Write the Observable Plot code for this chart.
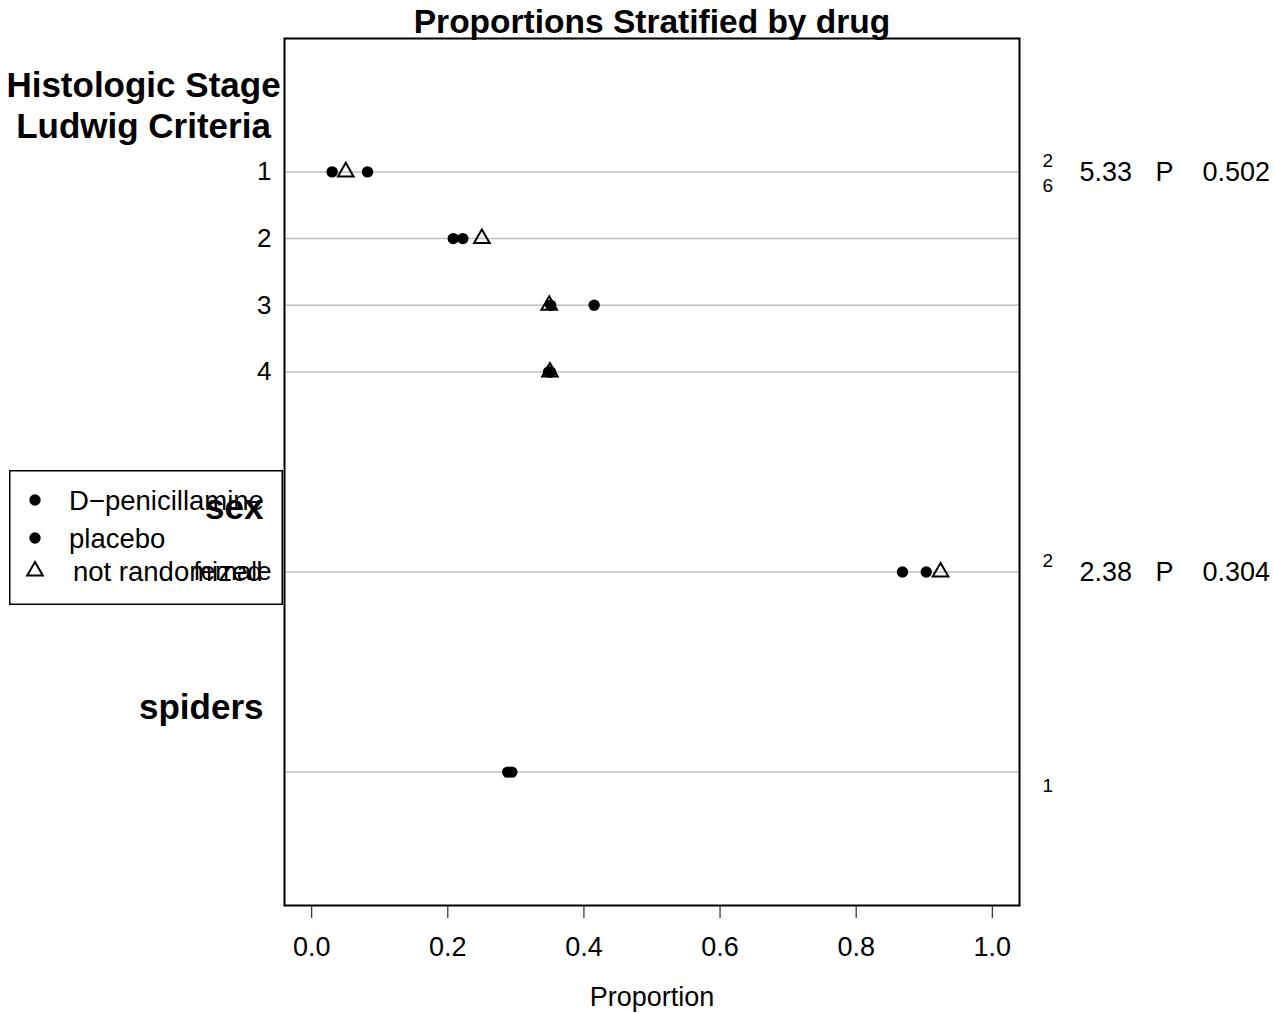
<!DOCTYPE html>
<html>
<head>
<meta charset="utf-8">
<script src="https://cdn.jsdelivr.net/npm/d3@7"></script>
<script src="https://cdn.jsdelivr.net/npm/@observablehq/plot@0.6"></script>
<style>
  html, body { margin: 0; padding: 0; background: white; }
  #wrap { position: relative; width: 1274px; height: 1013px; font-family: "Liberation Sans", Arial, sans-serif; }
  #legend { position: absolute; left: 9px; top: 470px; }
</style>
</head>
<body>
<div id="wrap"></div>
<script>
// ---- data ----
const title = "Proportions Stratified by drug";
const xLabel = "Proportion";
const groups = ["Histologic Stage\nLudwig Criteria", "sex", "spiders"];
const levels = ["1", "2", "3", "4", "female", ""];
const levelGroup = [0, 0, 0, 0, 1, 2];
const dPenicillamine = [0.082, 0.222, 0.351, 0.348, 0.868, 0.288];
const placebo        = [0.030, 0.208, 0.415, 0.351, 0.903, 0.294];
const notRandomized  = [0.050, 0.250, 0.349, 0.350, 0.924, null];
const chiSup   = ["2", "2", ""];
const chiSub   = ["6", "", "1"];
const chiValue = ["5.33", "2.38", ""];
const pLabel   = ["P", "P", ""];
const pValue   = ["0.502", "0.304", ""];
const xTicks = [0, 0.2, 0.4, 0.6, 0.8, 1.0];
const legendLabels = ["D\u2212penicillamine", "placebo", "not randomized"];

// ---- slot layout: blank, then per group: heading, levels, blank ----
let slot = -2;
const slotStart = slot;
slot++;
const headingPos = [], levelPos = [], annotPos = [];
groups.forEach((g, gi) => {
  headingPos[gi] = slot++;
  levels.forEach((l, li) => {
    if (levelGroup[li] === gi) {
      if (annotPos[gi] === undefined) annotPos[gi] = slot;
      levelPos[li] = slot++;
    }
  });
  slot++;
});
const slotEnd = slot;

const rows = levels.map((l, i) => ({
  label: l, pos: levelPos[i],
  dpen: dPenicillamine[i], plac: placebo[i], nr: notRandomized[i]
}));
const grp = groups.map((g, i) => ({
  name: g, hpos: headingPos[i], apos: annotPos[i],
  sup: chiSup[i], sub: chiSub[i], chi: chiValue[i], p: pLabel[i], pv: pValue[i]
}));

const FONT = "Liberation Sans, Arial, sans-serif";

const chart = Plot.plot({
  width: 1274, height: 1013,
  marginLeft: 284, marginRight: 255, marginTop: 38, marginBottom: 108,
  x: {domain: [-0.04, 1.04]},
  y: {domain: [slotEnd, slotStart], axis: null},
  style: {fontFamily: FONT, background: "white", overflow: "visible", color: "black"},
  marks: [
    Plot.ruleY(rows, {y: "pos", stroke: "#bebebe", strokeWidth: 1.5}),
    Plot.frame({stroke: "black", strokeWidth: 2}),
    Plot.axisX({ticks: xTicks, tickFormat: d3.format(".1f"), tickSize: 13, tickPadding: 18,
                fontSize: 27, label: null, anchor: "bottom"}),
    Plot.text([xLabel], {frameAnchor: "bottom", lineAnchor: "bottom", dy: 100, fontSize: 27}),
    Plot.text([title], {frameAnchor: "top", lineAnchor: "bottom", dy: -6, fontSize: 33.5, fontWeight: "bold"}),
    // row labels
    Plot.text(rows, {y: "pos", text: "label", frameAnchor: "left", textAnchor: "end", dx: -13, fontSize: 26}),
    // group headings
    Plot.text(grp.filter(d => d.name.includes("\n")), {y: "hpos", text: "name", frameAnchor: "left",
      textAnchor: "middle", dx: -141, dy: -1, lineHeight: 1.17, fontSize: 35, fontWeight: "bold"}),
    Plot.text(grp.filter(d => !d.name.includes("\n")), {y: "hpos", text: "name", frameAnchor: "left",
      textAnchor: "end", dx: -21, dy: 2, fontSize: 35, fontWeight: "bold"}),
    // points
    Plot.dot(rows, {x: "dpen", y: "pos", r: 5.7, fill: "black", stroke: "none"}),
    Plot.dot(rows, {x: "plac", y: "pos", r: 5.7, fill: "black", stroke: "none"}),
    Plot.dot(rows.filter(d => d.nr != null), {x: "nr", y: "pos", symbol: "triangle", r: 5.8,
      fill: "none", stroke: "black", strokeWidth: 2}),
    // right-side test statistics
    Plot.text(grp, {y: "apos", text: "sup", frameAnchor: "right", textAnchor: "start", dx: 23, dy: -11, fontSize: 19}),
    Plot.text(grp, {y: "apos", text: "sub", frameAnchor: "right", textAnchor: "start", dx: 23, dy: 14, fontSize: 19}),
    Plot.text(grp, {y: "apos", text: "chi", frameAnchor: "right", textAnchor: "start", dx: 60, fontSize: 27}),
    Plot.text(grp, {y: "apos", text: "p", frameAnchor: "right", textAnchor: "start", dx: 136, fontSize: 27}),
    Plot.text(grp, {y: "apos", text: "pv", frameAnchor: "right", textAnchor: "start", dx: 183, fontSize: 27})
  ]
});

const wrap = document.getElementById("wrap");
wrap.appendChild(chart);

// ---- legend (overlaid, transparent box) ----
const legW = 274, legH = 135;
const legend = d3.create("svg").attr("id", "legend")
  .attr("width", legW).attr("height", legH)
  .style("font-family", FONT).style("overflow", "visible");
legend.append("rect").attr("x", 0.75).attr("y", 0.75).attr("width", legW - 1.5).attr("height", legH - 1.5)
  .attr("fill", "none").attr("stroke", "black").attr("stroke-width", 1.5);
const legRows = [
  {label: legendLabels[0], sym: "dot", cy: 30, tx: 60},
  {label: legendLabels[1], sym: "dot", cy: 68, tx: 60},
  {label: legendLabels[2], sym: "tri", cy: 101, tx: 64}
];
const triPath = d3.symbol(d3.symbolTriangle, Math.PI * 5.8 * 5.8)();
legRows.forEach(r => {
  if (r.sym === "dot") {
    legend.append("circle").attr("cx", 26).attr("cy", r.cy).attr("r", 5.7).attr("fill", "black");
  } else {
    legend.append("path").attr("d", triPath).attr("transform", `translate(26,${r.cy})`)
      .attr("fill", "none").attr("stroke", "black").attr("stroke-width", 2);
  }
  legend.append("text").attr("x", r.tx).attr("y", r.cy).attr("dy", "0.35em")
    .attr("font-size", 27.5).text(r.label);
});
wrap.appendChild(legend.node());
</script>
</body>
</html>
